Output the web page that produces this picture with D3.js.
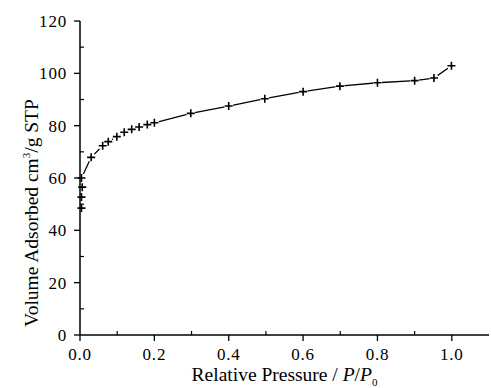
<!DOCTYPE html>
<html>
<head>
<meta charset="utf-8">
<script src="https://cdn.jsdelivr.net/npm/d3@7"></script>
<style>
  body { margin: 0; background: #fff; }
</style>
</head>
<body>
<script>
// isotherm points
const pressure = [0.004, 0.004, 0.006, 0.004, 0.03, 0.061, 0.076, 0.099, 0.119, 0.139, 0.159, 0.181, 0.2,
  0.298, 0.4, 0.497, 0.6, 0.699, 0.8, 0.9, 0.952, 0.999];
const volume = [48.5, 52.7, 56.5, 60.0, 67.9, 72.3, 73.9, 75.8, 77.5, 78.6, 79.5, 80.4, 81.1,
  84.7, 87.5, 90.3, 93.0, 95.1, 96.4, 97.2, 98.2, 102.9];
const xTicks = [0, 0.2, 0.4, 0.6, 0.8, 1.0];
const yTicks = [0, 20, 40, 60, 80, 100, 120];

const FONT = '"Liberation Serif", "DejaVu Serif", serif';

let width = 491;
let height = 388;
let margin = { left: 80, right: 2, top: 21, bottom: 53 };

let svg = d3.select('body')
  .append('svg')
  .attr('width', width)
  .attr('height', height)
  .attr('font-family', FONT);

let x = d3.scaleLinear().domain([0, 1.1]).range([margin.left, width - margin.right]);
let y = d3.scaleLinear().domain([0, 120]).range([height - margin.bottom, margin.top]);

let points = pressure.map((p, i) => [p, volume[i]]);

// line first, then white blobs to give the gap round the markers
let line = d3.line().x(d => x(d[0])).y(d => y(d[1]));
svg.append('path')
  .datum(points.slice(3))
  .attr('d', line)
  .attr('fill', 'none')
  .attr('stroke', '#000')
  .attr('stroke-width', 1.3);

svg.selectAll('circle.gap')
  .data(points.slice(3))
  .enter()
  .append('circle')
  .attr('class', 'gap')
  .attr('cx', d => x(d[0]))
  .attr('cy', d => y(d[1]))
  .attr('r', 4.5)
  .attr('fill', '#fff');

// x axis
let xAxis = svg.append('g').attr('transform', `translate(0, ${y(0)})`);
xAxis.append('line')
  .attr('x1', x(0)).attr('x2', x(1.1))
  .attr('stroke', '#000').attr('stroke-width', 1.5);
xAxis.selectAll('line.minor')
  .data(d3.range(0.1, 1.1, 0.2))
  .enter().append('line')
  .attr('x1', d => x(d)).attr('x2', d => x(d))
  .attr('y1', 0).attr('y2', -4)
  .attr('stroke', '#000').attr('stroke-width', 1.2);
xAxis.selectAll('line.major')
  .data(xTicks)
  .enter().append('line')
  .attr('x1', d => x(d)).attr('x2', d => x(d))
  .attr('y1', 0).attr('y2', 6)
  .attr('stroke', '#000').attr('stroke-width', 1.3);
xAxis.selectAll('text')
  .data(xTicks)
  .enter().append('text')
  .attr('x', d => x(d))
  .attr('y', 25)
  .attr('text-anchor', 'middle')
  .attr('font-size', 17)
  .attr('letter-spacing', 0.8)
  .text(d => d.toFixed(1));

// y axis
let yAxis = svg.append('g').attr('transform', `translate(${x(0)}, 0)`);
yAxis.append('line')
  .attr('y1', y(0)).attr('y2', y(120))
  .attr('stroke', '#000').attr('stroke-width', 1.5);
yAxis.selectAll('line.minor')
  .data(d3.range(10, 120, 20))
  .enter().append('line')
  .attr('y1', d => y(d)).attr('y2', d => y(d))
  .attr('x1', 0).attr('x2', 4)
  .attr('stroke', '#000').attr('stroke-width', 1.2);
yAxis.selectAll('line.major')
  .data(yTicks)
  .enter().append('line')
  .attr('y1', d => y(d)).attr('y2', d => y(d))
  .attr('x1', 0).attr('x2', -6)
  .attr('stroke', '#000').attr('stroke-width', 1.3);
yAxis.selectAll('text')
  .data(yTicks)
  .enter().append('text')
  .attr('x', -13)
  .attr('y', d => y(d) + 6)
  .attr('text-anchor', 'end')
  .attr('font-size', 17)
  .attr('letter-spacing', 0.8)
  .text(d => d);

// markers
svg.selectAll('path.mark')
  .data(points)
  .enter()
  .append('path')
  .attr('class', 'mark')
  .attr('d', d => {
    let cx = x(d[0]), cy = y(d[1]);
    return `M${cx - 4},${cy}H${cx + 4}M${cx},${cy - 4}V${cy + 4}`;
  })
  .attr('stroke', '#000')
  .attr('stroke-width', 1.6);

// axis titles
let xTitle = svg.append('text')
  .attr('x', (x(0) + x(1.1)) / 2)
  .attr('y', 381)
  .attr('text-anchor', 'middle')
  .attr('font-size', 19.5);
xTitle.append('tspan').text('Relative Pressure / ');
xTitle.append('tspan').attr('font-style', 'italic').text('P');
xTitle.append('tspan').text('/');
xTitle.append('tspan').attr('font-style', 'italic').text('P');
xTitle.append('tspan').attr('font-size', 11).attr('dy', 5).text('0');

let yTitle = svg.append('text')
  .attr('transform', `translate(38, 213) rotate(-90)`)
  .attr('text-anchor', 'middle')
  .attr('font-size', 19.5);
yTitle.append('tspan').text('Volume Adsorbed cm');
yTitle.append('tspan').attr('font-size', 11).attr('dy', -8).text('3');
yTitle.append('tspan').attr('dy', 8).text('/g STP');
</script>
</body>
</html>
